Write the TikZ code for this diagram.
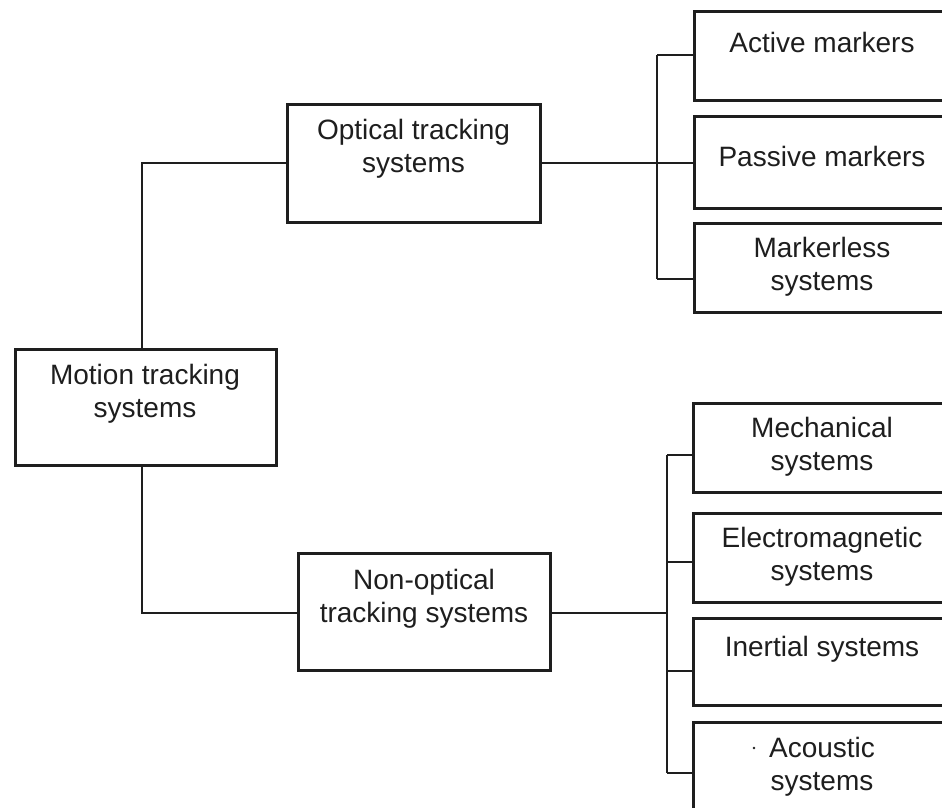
\documentclass[tikz,border=0pt]{standalone}
\usepackage{fontspec}
\setmainfont{Liberation Sans}
\definecolor{ink}{HTML}{1E1E1E}
\begin{document}
\begin{tikzpicture}[x=1pt,y=-1pt,
  box/.style={draw=ink,line width=3pt,inner sep=0pt,fill=none},
  txt/.style={text=ink,align=center,inner sep=0pt,font=\fontsize{28}{33}\selectfont},
  conn/.style={draw=ink,line width=1.7pt}]
\useasboundingbox (0,0) rectangle (942,807);
\clip (0,0) rectangle (942,807);
\fill[white] (0,0) rectangle (942,807);
% boxes
\node[box,minimum width=261pt,minimum height=116pt] (mot) at (145.5,407) {};
\node[box,minimum width=253pt,minimum height=118pt] (opt) at (413.5,163) {};
\node[box,minimum width=252pt,minimum height=117pt] (non) at (424,611.5) {};
\node[box,minimum width=256pt,minimum height=89pt] (act) at (822,55.5) {};
\node[box,minimum width=256pt,minimum height=92pt] (pas) at (822,162) {};
\node[box,minimum width=256pt,minimum height=89pt] (mkl) at (822,267.5) {};
\node[box,minimum width=257pt,minimum height=89pt] (mec) at (821.5,447.5) {};
\node[box,minimum width=257pt,minimum height=89pt] (ele) at (821.5,557.5) {};
\node[box,minimum width=257pt,minimum height=87pt] (ine) at (821.5,661.5) {};
\node[box,minimum width=257pt,minimum height=108pt] (aco) at (821.5,776) {};
% texts
\node[txt] (tmot) at (145,393.5) {Motion tracking\\systems};
\node[txt] (topt) at (413.5,148.5) {Optical tracking\\systems};
\node[txt] (tnon) at (424,598.5) {Non-optical\\tracking systems};
\node[txt] (tact) at (822,42) {Active markers};
\node[txt] (tpas) at (822,156) {Passive markers};
\node[txt] (tmkl) at (822,266.5) {Markerless\\systems};
\node[txt] (tmec) at (822,447) {Mechanical\\systems};
\node[txt] (tele) at (822,557) {Electromagnetic\\systems};
\node[txt] (tine) at (822,649) {Inertial systems};
\node[txt] (taco) at (822,767) {Acoustic\\systems};
\fill[ink] (754,748) circle (1.3pt);
% left connectors
\coordinate (lt) at (142,163);
\coordinate (lb) at (142,613);
\draw[conn] (mot.north -| lt) -- (lt) -- (lt -| opt.west);
\draw[conn] (mot.south -| lb) -- (lb) -- (lb -| non.west);
% top bus
\coordinate (t1) at (657,55);
\coordinate (t2) at (657,163);
\coordinate (t3) at (657,279);
\draw[conn] (opt.east |- t2) -- (t2);
\draw[conn] (t1) -- (t3);
\draw[conn] (t1) -- (t1 -| act.west);
\draw[conn] (t2) -- (t2 -| pas.west);
\draw[conn] (t3) -- (t3 -| mkl.west);
% bottom bus
\coordinate (b0) at (667,613);
\coordinate (b1) at (667,455);
\coordinate (b2) at (667,562);
\coordinate (b3) at (667,671);
\coordinate (b4) at (667,773);
\draw[conn] (non.east |- b0) -- (b0);
\draw[conn] (b1) -- (b4);
\draw[conn] (b1) -- (b1 -| mec.west);
\draw[conn] (b2) -- (b2 -| ele.west);
\draw[conn] (b3) -- (b3 -| ine.west);
\draw[conn] (b4) -- (b4 -| aco.west);
\end{tikzpicture}
\end{document}
